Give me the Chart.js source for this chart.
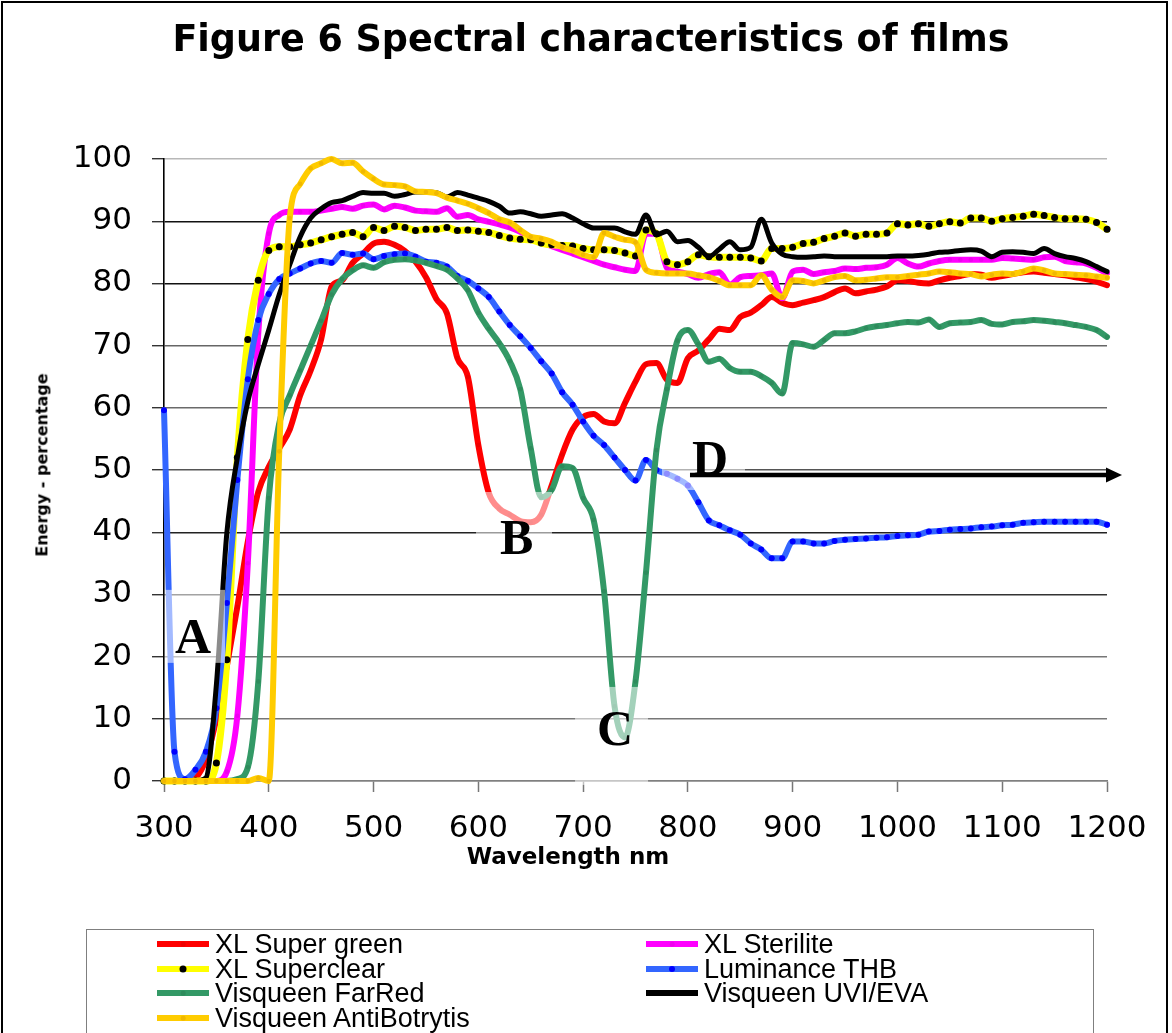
<!DOCTYPE html>
<html>
<head>
<meta charset="utf-8">
<title>Spectral characteristics of films</title>
<script src="https://cdn.jsdelivr.net/npm/chart.js@4.4.1/dist/chart.umd.min.js"></script>
<style>
  html, body { margin: 0; padding: 0; background: #fff; }
  #page { position: relative; width: 1172px; height: 1033px; overflow: hidden; background: #fff;
          font-family: "DejaVu Sans", sans-serif; color: #000; }
  #chart { position: absolute; left: 0; top: 0; }
  #frame { position: absolute; left: 1px; top: 1px; width: 1163px; height: 1100px;
           border: 2px solid #000; pointer-events: none; }
  .title { position: absolute; left: 0; width: 1182px; top: 17px; text-align: center;
           font-weight: bold; font-size: 36.5px; line-height: 1.2; white-space: nowrap; }
  .xtitle { position: absolute; left: 368px; width: 400px; top: 842.5px; text-align: center;
            font-weight: bold; font-size: 23px; line-height: 1.2; white-space: nowrap; }
  .ytitle { position: absolute; left: 42px; top: 465px; transform: translate(-50%, -50%) rotate(-90deg);
            font-weight: bold; font-size: 16px; line-height: 1.2; white-space: nowrap; }
  #legend { position: absolute; left: 86px; top: 929px; width: 1008px; height: 140px;
            border: 1.5px solid #7f7f7f; box-sizing: border-box; }
  #legend .rows { position: absolute; left: 70px; top: 2px; display: grid;
                  grid-template-columns: 489px 420px; grid-auto-rows: 24.6px; }
  #legend .item { display: flex; align-items: center; font-family: "Liberation Sans", Arial, sans-serif;
                  font-size: 27px; line-height: 24.6px; white-space: nowrap; }
  #legend .swatch { position: relative; width: 52px; height: 6px; margin-right: 6px; flex: none; }
  #legend .swatch i { position: absolute; left: 50%; top: 50%; border-radius: 50%; transform: translate(-50%, -50%); }
</style>
</head>
<body>
<div id="page">
  <canvas id="chart" width="1172" height="1033"></canvas>
  <div class="title">Figure 6 Spectral characteristics of films</div>
  <div class="xtitle">Wavelength nm</div>
  <div class="ytitle">Energy - percentage</div>
  <div id="legend"><div class="rows"></div></div>
  <div id="frame"></div>
</div>
<script>
// Wavelength grid (nm) shared by every film measurement
const wavelengthNm = [
  300, 310, 320, 330, 340, 350, 360, 370, 380, 390,
  400, 410, 420, 430, 440, 450, 460, 470, 480, 490,
  500, 510, 520, 530, 540, 550, 560, 570, 580, 590,
  600, 610, 620, 630, 640, 650, 660, 670, 680, 690,
  700, 710, 720, 730, 740, 750, 760, 770, 780, 790,
  800, 810, 820, 830, 840, 850, 860, 870, 880, 890,
  900, 910, 920, 930, 940, 950, 960, 970, 980, 990,
  1000, 1010, 1020, 1030, 1040, 1050, 1060, 1070, 1080, 1090,
  1100, 1110, 1120, 1130, 1140, 1150, 1160, 1170, 1180, 1190,
  1200
];

// Transmitted energy, percent
const xlSuperGreen = [
  0, 0, 0, 0.5, 3.5, 10, 18.5, 28, 38.5, 46.5,
  50.5, 53.5, 56.5, 62, 66, 71, 79.5, 80.5, 83.3, 84.8,
  86.4, 86.7, 86.2, 85.2, 83.5, 81, 77.5, 75.2, 68, 65,
  54, 46.3, 43.8, 42.8, 41.8, 41.6, 42.8, 47.5, 52.5, 56.5,
  58.5, 59, 57.8, 57.5, 60.8, 64.2, 67, 67.2, 64.5, 64,
  68, 69.2, 71, 72.7, 72.5, 74.6, 75.3, 76.5, 77.8, 76.9,
  76.5, 76.9, 77.3, 77.8, 78.6, 79.2, 78.4, 78.7, 79, 79.5,
  80.5, 80.4, 80.1, 80, 80.5, 80.9, 81.2, 81.5, 81.4, 80.9,
  81.2, 81.5, 81.8, 81.9, 81.7, 81.5, 81.3, 81, 80.7, 80.3,
  79.7
];
const xlSterilite = [
  0, 0, 0, 0, 0, 0, 1.5, 10.5, 35, 72,
  88, 91, 91.5, 91.5, 91.5, 91.7, 92, 92.3, 92, 92.5,
  92.7, 91.9, 92.5, 92.2, 91.7, 91.6, 91.5, 92.1, 90.7, 91,
  90.3, 89.9, 89.5, 89, 88.3, 87.4, 86.7, 86, 85.4, 84.8,
  84.2, 83.6, 83, 82.6, 82.2, 82, 88, 88, 82.5, 81.9,
  81.5, 80.9, 81.5, 81.8, 79.8, 81, 81.2, 81.3, 81.6, 77.6,
  81.9, 82.2, 81.5, 81.8, 82, 82.4, 82.3, 82.5, 82.6, 83,
  84.1, 83.2, 82.7, 83.2, 83.6, 83.8, 83.8, 83.8, 83.8, 83.8,
  84.1, 84, 83.9, 83.8, 84.2, 84.3, 83.6, 83.4, 83.2, 82.5,
  81.6
];
const xlSuperclear = [
  0, 0, 0, 0, 0, 2.9, 19.5, 52, 71, 80.5,
  85.3, 85.9, 85.9, 86.2, 86.5, 87, 87.5, 87.9, 88.2, 87.5,
  89, 88.5, 89.2, 89, 88.5, 88.7, 88.7, 89, 88.5, 88.6,
  88.4, 88.2, 87.7, 87.3, 87.1, 87, 86.5, 86.2, 86.1, 86,
  85.6, 85.4, 85.4, 85.3, 84.9, 84.4, 88.6, 88, 83.5, 83,
  83.5, 84.6, 84.3, 84.2, 84.2, 84.2, 84.1, 83.6, 85.6, 85.6,
  85.8, 86.4, 86.6, 87.2, 87.6, 88.1, 87.6, 87.9, 87.9, 88.1,
  89.6, 89.4, 89.6, 89.2, 89.6, 89.9, 89.7, 90.5, 90.5, 90,
  90.4, 90.6, 90.8, 91.1, 90.9, 90.6, 90.4, 90.4, 90.3, 89.8,
  88.7
];
const luminanceThb = [
  59.6, 4.7, 0.3, 1.8, 4.7, 11.7, 28.6, 48.4, 64.6, 74.1,
  78.3, 80.7, 81.6, 82.4, 83.2, 83.6, 83.3, 84.9, 84.6, 84.8,
  83.9, 84.4, 84.7, 84.8, 84.3, 83.5, 83.3, 82.7, 81.2, 80.4,
  79.2, 77.8, 75.5, 73.3, 71.5, 69.6, 67.5, 65.5, 62.5, 60.5,
  57.8, 55.5, 54, 52, 50, 48.3, 51.6, 50, 49.4, 48.6,
  47.5, 44.8, 41.9, 41.1, 40.3, 39.6, 38.2, 37.2, 35.8, 35.8,
  38.5, 38.5, 38.2, 38.2, 38.6, 38.8, 38.9, 39, 39.1, 39.2,
  39.4, 39.5, 39.6, 40.1, 40.2, 40.4, 40.5, 40.6, 40.8, 40.9,
  41.1, 41.2, 41.5, 41.6, 41.7, 41.7, 41.7, 41.7, 41.7, 41.7,
  41.2
];
const visqueenFarRed = [
  0, 0, 0, 0, 0, 0, 0, 0.3, 2.2, 16,
  45.5, 57.5, 62, 66, 70, 74, 78.2, 80.7, 82.1, 82.9,
  82.5, 83.4, 83.8, 83.9, 83.7, 83.3, 82.8, 82.2, 80.8, 78.9,
  75.3, 72.7, 70.4, 67.5, 63, 53.5, 45.6, 46.8, 50.6, 50.3,
  45.5, 42, 30.5, 12, 7, 16, 33.5, 53.2, 63, 70.8,
  72.5, 70.2, 67.4, 67.9, 66.4, 65.8, 65.8, 65.1, 64, 62.3,
  70.4, 70.2, 69.8, 70.9, 72, 72, 72.3, 72.8, 73.1, 73.3,
  73.6, 73.8, 73.7, 74.2, 73, 73.6, 73.7, 73.8, 74.1, 73.5,
  73.4, 73.8, 73.9, 74.1, 74, 73.8, 73.6, 73.3, 73, 72.5,
  71.4
];
const visqueenUviEva = [
  0, 0, 0, 0, 0.5, 15.5, 39.9, 52, 61, 67,
  72.5, 78.2, 83, 87.5, 90.5, 92, 93, 93.3, 94, 94.6,
  94.5, 94.5, 94, 94.3, 94.7, 94.7, 94.6, 93.9, 94.6, 94.2,
  93.7, 93.2, 92.4, 91.3, 91.5, 91.2, 90.8, 91, 91.2, 90.5,
  89.6, 88.9, 88.9, 88.9, 88.3, 87.9, 91, 87.8, 88.4, 86.7,
  86.9, 85.8, 84.3, 85.5, 86.7, 85.4, 85.8, 90.3, 86.5, 84.7,
  84.3, 84.2, 84.3, 84.4, 84.3, 84.3, 84.3, 84.3, 84.3, 84.3,
  84.4, 84.4, 84.5, 84.7, 85, 85.1, 85.3, 85.4, 85.2, 84.3,
  85, 85.1, 85, 84.8, 85.6, 84.8, 84.3, 84, 83.5, 82.7,
  81.9
];
const visqueenAntiBotrytis = [
  0, 0, 0, 0, 0, 0, 0, 0, 0, 0.5,
  0, 53, 90.5, 96, 98.5, 99.3, 100, 99.3, 99.4, 98,
  96.8, 95.9, 95.8, 95.6, 94.8, 94.7, 94.5, 93.8, 93.3, 92.8,
  92.1, 91.3, 90.3, 89.8, 88.6, 87.5, 87.2, 86.7, 85.8, 85.3,
  84.6, 84.2, 88.1, 87.5, 87, 86.6, 82.2, 81.7, 81.6, 81.6,
  81.6, 81.3, 81, 80.4, 79.7, 79.7, 79.7, 81.3, 79, 77.8,
  80.5, 80.4, 80, 80.5, 81, 81.2, 80.5, 80.6, 80.8, 81,
  81, 81.2, 81.4, 81.6, 81.9, 81.8, 81.6, 81.5, 81.1, 81.4,
  81.6, 81.5, 81.9, 82.4, 82.1, 81.6, 81.5, 81.4, 81.3, 81.1,
  80.9
];

// Axis tick values
const yTicks = [0, 10, 20, 30, 40, 50, 60, 70, 80, 90, 100];
const xTicks = [300, 400, 500, 600, 700, 800, 900, 1000, 1100, 1200];

// Series in legend order (row by row, two columns); z = drawing layer (1 on top)
const films = [
  { name: 'XL Super green',        values: xlSuperGreen,         line: '#ff0000', width: 6,   dot: '#ee0000', r: 2.3, z: 7 },
  { name: 'XL Sterilite',          values: xlSterilite,          line: '#ff00ff', width: 6,   dot: '#ee00ee', r: 2.3, z: 6 },
  { name: 'XL Superclear',         values: xlSuperclear,         line: '#ffff00', width: 7,   dot: '#000000', r: 3.5, z: 5 },
  { name: 'Luminance THB',         values: luminanceThb,         line: '#3366ff', width: 6,   dot: '#0000ff', r: 3,   z: 4 },
  { name: 'Visqueen FarRed',       values: visqueenFarRed,       line: '#339966', width: 6,   dot: '#2e8b5c', r: 2.3, z: 3 },
  { name: 'Visqueen UVI/EVA',      values: visqueenUviEva,       line: '#000000', width: 5,   dot: null,      r: 0,   z: 2 },
  { name: 'Visqueen AntiBotrytis', values: visqueenAntiBotrytis, line: '#ffcc00', width: 6,   dot: '#f0b800', r: 2.3, z: 1 }
];

// Lettered callouts (anchor = letter's left edge / baseline in data units) and the arrow at D
const callouts = [
  { text: 'A', nm: 310.5, pct: 20.6, box: [-10, -63, 60, 73] },
  { text: 'B', nm: 620.7, pct: 36.5, box: [-24, -62, 76, 73] },
  { text: 'C', nm: 713.3, pct: 5.8,  box: [-22, -58, 73, 98] },
  { text: 'D', nm: 803.9, pct: 49.2, box: [-30, -43, 83, 58] }
];
const arrowD = { fromNm: 802, toNm: 1214.3, pct: 49.2 };

const gridTone = { 100: '#b8b8b8', 90: '#111', 80: '#111', 70: '#666', 60: '#6a6a6a',
                   50: '#555', 40: '#222', 30: '#333', 20: '#777', 10: '#777', 0: '#888' };

const datasets = films.map(f => ({
  label: f.name,
  data: wavelengthNm.map((nm, i) => ({ x: nm, y: f.values[i] })),
  borderColor: f.line,
  borderWidth: f.width,
  backgroundColor: f.line,
  pointRadius: f.r,
  pointBackgroundColor: f.dot || f.line,
  pointBorderWidth: 0,
  pointHoverRadius: f.r,
  cubicInterpolationMode: 'monotone',
  borderJoinStyle: 'round',
  borderCapStyle: 'round',
  fill: false,
  clip: 12,
  order: f.z
}));

const calloutPlugin = {
  id: 'callouts',
  afterDatasetsDraw(chart) {
    const { ctx, scales: { x, y } } = chart;
    ctx.save();
    // translucent panels behind the letters
    ctx.fillStyle = 'rgba(255,255,255,0.55)';
    callouts.forEach(c => {
      const px = x.getPixelForValue(c.nm), py = y.getPixelForValue(c.pct);
      ctx.fillRect(px + c.box[0], py + c.box[1], c.box[2], c.box[3]);
    });
    // arrow from D
    const ax0 = x.getPixelForValue(arrowD.fromNm), ax1 = x.getPixelForValue(arrowD.toNm);
    const ay = y.getPixelForValue(arrowD.pct);
    ctx.strokeStyle = '#000';
    ctx.lineWidth = 4.5;
    ctx.beginPath();
    ctx.moveTo(ax0, ay);
    ctx.lineTo(ax1 - 14, ay);
    ctx.stroke();
    ctx.fillStyle = '#000';
    ctx.beginPath();
    ctx.moveTo(ax1, ay);
    ctx.lineTo(ax1 - 16, ay - 7.5);
    ctx.lineTo(ax1 - 16, ay + 7.5);
    ctx.closePath();
    ctx.fill();
    // letters
    ctx.font = 'bold 50px "Liberation Serif", "Times New Roman", serif';
    ctx.textAlign = 'left';
    ctx.textBaseline = 'alphabetic';
    callouts.forEach(c => {
      ctx.fillText(c.text, x.getPixelForValue(c.nm), y.getPixelForValue(c.pct));
    });
    ctx.restore();
  }
};

new Chart(document.getElementById('chart'), {
  type: 'line',
  data: { datasets },
  options: {
    responsive: false,
    animation: false,
    events: [],
    layout: { padding: { left: 0, right: 65, top: 159, bottom: 162 } },
    plugins: { legend: { display: false }, tooltip: { enabled: false }, title: { display: false } },
    scales: {
      x: {
        type: 'linear',
        min: xTicks[0],
        max: xTicks[xTicks.length - 1],
        afterBuildTicks(scale) { scale.ticks = xTicks.map(v => ({ value: v })); },
        afterFit(scale) { scale.height = 90; },
        ticks: {
          autoSkip: false, maxRotation: 0, padding: 18, color: '#000',
          font: { family: 'DejaVu Sans', size: 31 },
          callback: v => String(v)
        },
        grid: { drawOnChartArea: false, drawTicks: true, tickLength: 11, tickColor: '#777', tickWidth: 1.5 },
        border: { color: '#808080', width: 1.5 },
        title: { display: false }
      },
      y: {
        min: yTicks[0],
        max: yTicks[yTicks.length - 1],
        afterBuildTicks(scale) { scale.ticks = yTicks.map(v => ({ value: v })); },
        afterFit(scale) { scale.width = 164; },
        ticks: {
          padding: 20, color: '#000',
          font: { family: 'DejaVu Sans', size: 31 },
          callback: v => String(v)
        },
        grid: {
          color: c => gridTone[c.tick ? c.tick.value : 0] || '#666',
          tickColor: '#333',
          lineWidth: 1.4,
          tickLength: 12,
          drawTicks: true
        },
        border: { color: '#000', width: 1.6 },
        title: { display: false }
      }
    }
  },
  plugins: [calloutPlugin]
});

// Legend built from the same series list
const rows = document.querySelector('#legend .rows');
films.forEach(f => {
  const item = document.createElement('div');
  item.className = 'item';
  const sw = document.createElement('span');
  sw.className = 'swatch';
  sw.style.background = f.line;
  if (f.dot) {
    const d = document.createElement('i');
    const size = Math.max(4, f.r * 2);
    d.style.width = size + 'px';
    d.style.height = size + 'px';
    d.style.background = f.dot;
    sw.appendChild(d);
  }
  const label = document.createElement('span');
  label.textContent = f.name;
  item.appendChild(sw);
  item.appendChild(label);
  rows.appendChild(item);
});
</script>
</body>
</html>
